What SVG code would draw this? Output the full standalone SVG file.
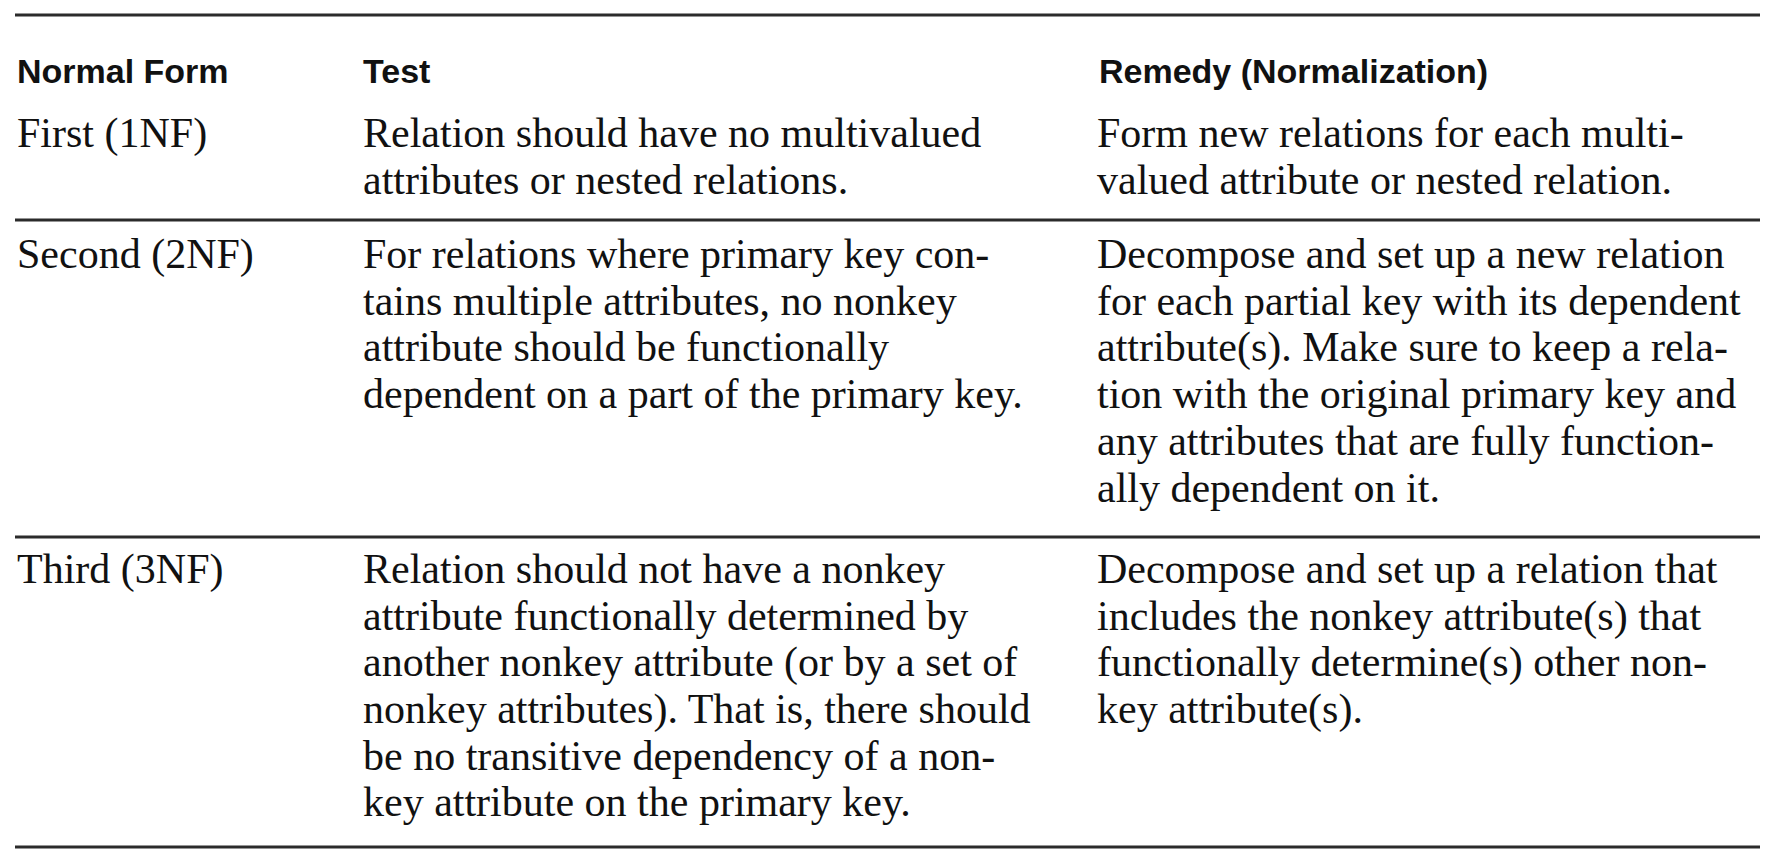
<svg xmlns="http://www.w3.org/2000/svg" width="1774" height="862" viewBox="0 0 1774 862">
<style>
.rule{stroke:#2b2b2b;stroke-width:3;fill:none}
.h{font-family:"Liberation Sans",Arial,sans-serif;font-weight:bold;font-size:34px;fill:#111}
.b{font-family:"Liberation Serif","Times New Roman",serif;font-size:42px;fill:#111}
</style>
<rect x="0" y="0" width="1774" height="862" fill="#fff"/>
<g id="rules">
<line class="rule" x1="15" y1="15" x2="1760" y2="15"/>
<line class="rule" x1="15" y1="220" x2="1760" y2="220"/>
<line class="rule" x1="15" y1="537" x2="1760" y2="537"/>
<line class="rule" x1="15" y1="847" x2="1760" y2="847"/>
</g>
<g id="header">
<text class="h" x="17" y="83">Normal Form</text>
<text class="h" x="363" y="83">Test</text>
<text class="h" x="1099" y="83">Remedy (Normalization)</text>
</g>
<g id="row1">
<text class="b" x="17" y="147">First (1NF)</text>
<text class="b" x="363" y="147">Relation should have no multivalued</text>
<text class="b" x="363" y="194">attributes or nested relations.</text>
<text class="b" x="1097" y="147">Form new relations for each multi-</text>
<text class="b" x="1097" y="194">valued attribute or nested relation.</text>
</g>
<g id="row2">
<text class="b" x="17" y="268">Second (2NF)</text>
<text class="b" x="363" y="268">For relations where primary key con-</text>
<text class="b" x="363" y="315">tains multiple attributes, no nonkey</text>
<text class="b" x="363" y="361">attribute should be functionally</text>
<text class="b" x="363" y="408">dependent on a part of the primary key.</text>
<text class="b" x="1097" y="268">Decompose and set up a new relation</text>
<text class="b" x="1097" y="315">for each partial key with its dependent</text>
<text class="b" x="1097" y="361">attribute(s). Make sure to keep a rela-</text>
<text class="b" x="1097" y="408">tion with the original primary key and</text>
<text class="b" x="1097" y="455">any attributes that are fully function-</text>
<text class="b" x="1097" y="502">ally dependent on it.</text>
</g>
<g id="row3">
<text class="b" x="17" y="583">Third (3NF)</text>
<text class="b" x="363" y="583">Relation should not have a nonkey</text>
<text class="b" x="363" y="630">attribute functionally determined by</text>
<text class="b" x="363" y="676">another nonkey attribute (or by a set of</text>
<text class="b" x="363" y="723">nonkey attributes). That is, there should</text>
<text class="b" x="363" y="770">be no transitive dependency of a non-</text>
<text class="b" x="363" y="816">key attribute on the primary key.</text>
<text class="b" x="1097" y="583">Decompose and set up a relation that</text>
<text class="b" x="1097" y="630">includes the nonkey attribute(s) that</text>
<text class="b" x="1097" y="676">functionally determine(s) other non-</text>
<text class="b" x="1097" y="723">key attribute(s).</text>
</g>
</svg>
